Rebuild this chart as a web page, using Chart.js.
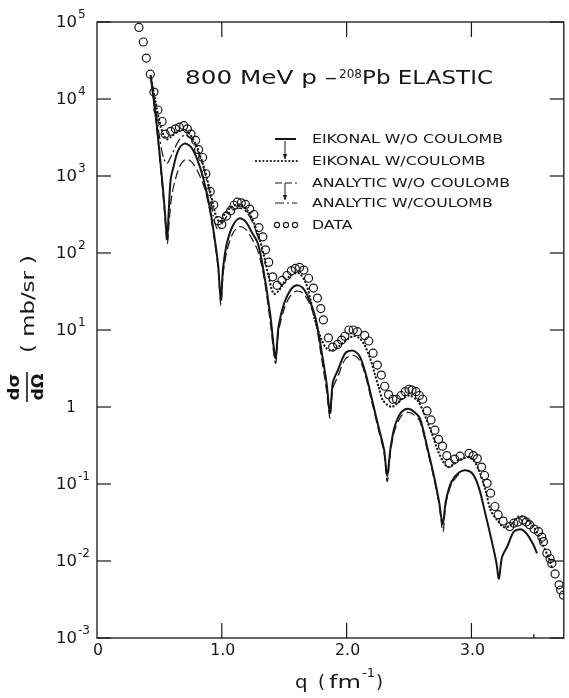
<!DOCTYPE html>
<html><head><meta charset="utf-8">
<script src="https://cdn.jsdelivr.net/npm/chart.js@4/dist/chart.umd.min.js"></script>
<style>html,body{margin:0;padding:0;background:#fff}canvas{display:block}</style>
</head><body>
<canvas id="c" width="569" height="698"></canvas>
<script>
// ---------- data ----------
// measured data (open circles): q (fm^-1), dσ/dΩ (mb/sr)
const qData = [0.336,0.371,0.395,0.427,0.456,0.488,0.522,0.546,0.591,0.628,0.660,0.695,0.724,0.753,0.790,0.814,0.846,0.872,0.907,0.935,0.971,1.000,1.037,1.071,1.098,1.124,1.156,1.190,1.223,1.257,1.297,1.329,1.350,1.376,1.408,1.443,1.482,1.522,1.557,1.589,1.623,1.657,1.695,1.734,1.766,1.793,1.814,1.854,1.888,1.928,1.960,1.986,2.018,2.053,2.087,2.145,2.177,2.212,2.246,2.278,2.305,2.336,2.371,2.399,2.437,2.469,2.500,2.524,2.556,2.583,2.609,2.644,2.676,2.707,2.737,2.768,2.803,2.822,2.867,2.909,2.981,3.015,3.047,3.081,3.105,3.126,3.153,3.188,3.214,3.254,3.307,3.339,3.373,3.413,3.439,3.466,3.503,3.537,3.564,3.577,3.604,3.630,3.644,3.670,3.702,3.715,3.737];
const xsData = [8.5e4,5.5e4,3.4e4,2.1e4,1.23e4,7.2e3,5.1e3,3.5e3,3.8e3,4.1e3,4.3e3,4.5e3,4.1e3,3.5e3,2.9e3,2.2e3,1.74e3,1.07e3,630,420,263,234,302,355,417,457,447,427,372,316,214,162,110,76,49,38,44,51,59,63,65,60,47,35,26,19,13.5,7.9,6.0,6.5,7.4,8.3,10,10,9.5,8.5,7.2,5.0,3.5,2.6,1.86,1.45,1.26,1.26,1.41,1.58,1.7,1.66,1.58,1.41,1.26,0.89,0.68,0.50,0.38,0.31,0.234,0.186,0.21,0.23,0.25,0.234,0.214,0.166,0.129,0.102,0.076,0.051,0.040,0.033,0.028,0.031,0.032,0.034,0.032,0.0295,0.026,0.024,0.0204,0.0178,0.0126,0.0107,0.0093,0.0068,0.0049,0.0042,0.0036];

// eikonal without Coulomb (solid)
const qEik = [0.43,0.475,0.515,0.54,0.55,0.562,0.575,0.59,0.61,0.65,0.70,0.75,0.80,0.85,0.90,0.94,0.97,0.992,1.01,1.04,1.09,1.14,1.19,1.24,1.29,1.34,1.39,1.43,1.455,1.50,1.55,1.60,1.65,1.70,1.75,1.80,1.84,1.867,1.89,1.93,1.99,2.05,2.106,2.15,2.20,2.25,2.30,2.325,2.35,2.384,2.437,2.49,2.54,2.587,2.65,2.70,2.74,2.77,2.795,2.84,2.90,2.955,3.01,3.06,3.11,3.16,3.20,3.22,3.245,3.29,3.34,3.40,3.45,3.50,3.525];
const xsEik = [2.0e4,5.2e3,1.17e3,417,251,151,355,890,1.26e3,2.14e3,2.63e3,2.4e3,1.7e3,955,417,166,71,25,63,132,229,282,257,186,132,52,15,4.3,11.2,22.4,33,38,35,25,14.5,5.2,2.0,0.83,2.1,3.0,5.0,5.4,4.5,2.8,1.32,0.60,0.28,0.126,0.28,0.55,0.85,0.95,0.87,0.71,0.28,0.126,0.060,0.030,0.060,0.107,0.141,0.151,0.135,0.089,0.042,0.019,0.0095,0.0059,0.0112,0.0158,0.024,0.0257,0.0219,0.0158,0.0126];

// eikonal with Coulomb (dotted)
const qEikC = [0.43,0.47,0.50,0.53,0.56,0.60,0.65,0.70,0.75,0.80,0.85,0.90,0.95,0.985,1.02,1.08,1.15,1.22,1.297,1.34,1.376,1.416,1.46,1.509,1.56,1.615,1.67,1.71,1.748,1.80,1.84,1.88,1.93,1.986,2.053,2.10,2.145,2.19,2.225,2.26,2.29,2.357,2.40,2.45,2.503,2.57,2.62,2.663,2.70,2.73,2.77,2.81,2.86,2.90,2.98,3.02,3.06,3.113,3.153,3.206,3.26,3.31,3.38,3.43,3.50,3.564,3.617,3.644];
const xsEikC = [2.0e4,8.9e3,5.2e3,3.5e3,3.0e3,3.3e3,3.8e3,4.0e3,3.4e3,2.4e3,1.41e3,708,316,251,316,398,427,331,162,89,49,29.5,33,44,52,55,42,25,13.2,7.4,5.75,5.4,6.0,7.2,8.3,7.9,6.3,4.2,2.7,1.74,1.23,1.0,1.1,1.29,1.41,1.2,0.83,0.55,0.38,0.275,0.2,0.166,0.182,0.204,0.224,0.2,0.151,0.083,0.046,0.034,0.0275,0.0288,0.038,0.036,0.0275,0.017,0.0112,0.0083];

// analytic without Coulomb (dashed)
const qAna = [0.43,0.475,0.515,0.54,0.563,0.58,0.60,0.63,0.67,0.715,0.76,0.81,0.86,0.90,0.94,0.97,0.993,1.01,1.04,1.09,1.14,1.19,1.24,1.29,1.34,1.39,1.43,1.455,1.50,1.55,1.60,1.65,1.70,1.75,1.80,1.84,1.867,1.89,1.93,1.99,2.05,2.106,2.15,2.20,2.25,2.30,2.325,2.35,2.384,2.437,2.49,2.54,2.587,2.65,2.70,2.74,2.772,2.795,2.84,2.90];
const xsAna = [2.0e4,4.8e3,1.0e3,355,132,282,562,933,1.41e3,1.66e3,1.51e3,1.12e3,708,380,151,63,21,52,105,182,219,204,155,105,46,12,3.7,9.5,19,28,32,30,22.4,13.2,4.2,1.6,0.72,1.74,2.5,4.2,4.7,4.0,2.57,1.2,0.55,0.25,0.107,0.25,0.49,0.76,0.85,0.79,0.65,0.26,0.117,0.055,0.024,0.055,0.100,0.135];

// analytic with Coulomb (dash-dot)
const qAnaC = [0.43,0.47,0.50,0.53,0.56,0.60,0.65,0.70,0.75,0.80,0.85,0.90,0.935,0.97,1.01,1.06,1.12,1.18,1.24,1.30];
const xsAnaC = [2.0e4,7.6e3,3.3e3,1.78e3,1.45e3,1.9e3,2.8e3,3.4e3,3.1e3,2.24e3,1.32e3,630,282,200,251,331,380,363,263,145];

// axis ticks and labels
const yTicks = [1e-3,1e-2,1e-1,1,1e1,1e2,1e3,1e4,1e5];
const yTickBase = ['10','10','10','1','10','10','10','10','10'];
const yTickSup = ['-3','-2','-1','','1','2','3','4','5'];
const xLabelVals = [0,1,2,3];
const xLabels = ['0','1.0','2.0','3.0'];
const xMajorTicks = [1,2,3];
const xMinorTicks = [3.5];

const legendLabels = ['EIKONAL W/O COULOMB','EIKONAL W/COULOMB','ANALYTIC W/O COULOMB','ANALYTIC W/COULOMB','DATA'];

// ---------- drawing ----------
const INK = '#161616';
const FONT = '"DejaVu Sans", "Liberation Sans", sans-serif';
const pts = (xs, ys) => xs.map((q, i) => ({x: q, y: ys[i]}));

function txt(ctx, s, x, y, size, o = {}) {
  ctx.save();
  ctx.font = (o.weight || 'normal') + ' ' + size + 'px ' + FONT;
  ctx.textBaseline = o.baseline || 'alphabetic';
  ctx.textAlign = 'left';
  const w = ctx.measureText(s).width;
  const sx = o.width ? o.width / w : (o.sx || 1);
  const W = w * sx;
  let left = x;
  if (o.align === 'center') left = x - W / 2;
  else if (o.align === 'right') left = x - W;
  ctx.translate(left, y);
  ctx.scale(sx, 1);
  ctx.fillStyle = INK;
  ctx.fillText(s, 0, 0);
  ctx.restore();
  return W;
}
function seg(ctx, x1, y1, x2, y2) { ctx.beginPath(); ctx.moveTo(x1, y1); ctx.lineTo(x2, y2); ctx.stroke(); }
function arrowDown(ctx, x, y1, y2) {
  ctx.save(); ctx.setLineDash([]); ctx.lineWidth = 1;
  seg(ctx, x, y1, x, y2);
  ctx.beginPath(); ctx.moveTo(x - 2.2, y2 - 5); ctx.lineTo(x, y2); ctx.lineTo(x + 2.2, y2 - 5); ctx.closePath();
  ctx.fillStyle = INK; ctx.fill();
  ctx.restore();
}

const decor = {
  id: 'decor',
  afterDraw(chart) {
    const {ctx, chartArea: a, scales: {x, y}} = chart;
    ctx.save();
    ctx.strokeStyle = INK;
    ctx.lineWidth = 1.3;
    ctx.strokeRect(a.left, a.top, a.right - a.left, a.bottom - a.top);
    ctx.lineWidth = 1.2;
    // y ticks (inward, both sides) and labels
    yTicks.forEach((v, i) => {
      const py = y.getPixelForValue(v);
      seg(ctx, a.left, py, a.left + 14, py);
      seg(ctx, a.right, py, a.right - 14, py);
      if (yTickSup[i]) {
        txt(ctx, yTickBase[i], 77, py + 1, 15, {baseline: 'middle', align: 'right', sx: 1.1});
        txt(ctx, yTickSup[i], 78, py - 7, 11.5, {baseline: 'middle', sx: 1.05});
      } else {
        txt(ctx, yTickBase[i], 71, py + 1, 15, {baseline: 'middle', align: 'center'});
      }
    });
    // x ticks
    xMajorTicks.forEach(v => {
      const px = x.getPixelForValue(v);
      seg(ctx, px, a.bottom, px, a.bottom - 15);
      seg(ctx, px, a.top, px, a.top + 15);
    });
    xMinorTicks.forEach(v => {
      const px = x.getPixelForValue(v);
      seg(ctx, px, a.bottom, px, a.bottom - 4);
    });
    xLabelVals.forEach((v, i) => {
      txt(ctx, xLabels[i], x.getPixelForValue(v) + 1, 651, 15, {baseline: 'middle', align: 'center', sx: 1.05});
    });
    // x title: q (fm^-1)
    txt(ctx, 'q', 295, 688, 18, {sx: 1.1});
    let xx = 318;
    xx += txt(ctx, '(', xx, 688, 18);
    xx += 4;
    xx += txt(ctx, 'fm', xx, 688, 18, {width: 32});
    txt(ctx, '-1', xx + 1, 677, 12.5, {width: 13});
    txt(ctx, ')', xx + 15, 688, 18);
    // y title (rotated)
    ctx.save();
    ctx.rotate(-Math.PI / 2);
    txt(ctx, '( mb/sr )', -304, 30, 17, {baseline: 'middle', align: 'center', width: 98});
    txt(ctx, 'dσ', -387, 15, 16, {baseline: 'middle', align: 'center', width: 27, weight: 'bold'});
    txt(ctx, 'dΩ', -387, 39, 16, {baseline: 'middle', align: 'center', width: 27, weight: 'bold'});
    ctx.lineWidth = 1.6;
    seg(ctx, -402, 27, -372, 27);
    ctx.restore();
    // title
    txt(ctx, '800 MeV p –', 185, 84, 20, {width: 152});
    txt(ctx, '208', 339, 78, 13, {width: 23});
    txt(ctx, 'Pb ELASTIC', 362, 84, 20, {width: 131});
    // legend
    const lx = 312, rows = [139, 161, 183, 203, 225];
    ctx.font = '13px ' + FONT;
    const sxL = 191 / ctx.measureText(legendLabels[0]).width;
    legendLabels.forEach((s, i) => txt(ctx, s, lx, rows[i] + 1, 13, {baseline: 'middle', sx: sxL}));
    ctx.lineCap = 'butt';
    ctx.lineWidth = 2; ctx.setLineDash([]);
    seg(ctx, 275, rows[0], 296, rows[0]);
    arrowDown(ctx, 285, rows[0] + 2, rows[1] - 2);
    ctx.lineCap = 'round'; ctx.lineWidth = 2.2; ctx.setLineDash([0.1, 3.6]);
    seg(ctx, 256, rows[1], 297, rows[1]);
    ctx.lineCap = 'butt'; ctx.lineWidth = 1.2; ctx.setLineDash([7, 3]);
    seg(ctx, 275, rows[2], 297, rows[2]);
    arrowDown(ctx, 285, rows[2], rows[3] - 3);
    ctx.setLineDash([9, 3, 2, 3]);
    seg(ctx, 275, rows[3], 297, rows[3]);
    ctx.setLineDash([]); ctx.lineWidth = 1.1;
    [277, 286, 295].forEach(cx => { ctx.beginPath(); ctx.arc(cx, rows[4], 2.6, 0, Math.PI * 2); ctx.stroke(); });
    ctx.restore();
  }
};

const lineBase = {showLine: true, pointRadius: 0, fill: false, tension: 0.3, borderColor: INK};

new Chart(document.getElementById('c'), {
  type: 'scatter',
  data: {
    datasets: [
      {label: 'DATA', data: pts(qData, xsData), showLine: false, pointRadius: 4, pointHoverRadius: 4,
        pointBorderWidth: 1.2, pointStyle: 'circle', borderColor: INK, backgroundColor: 'rgba(0,0,0,0)'},
      Object.assign({label: 'EIKONAL W/O COULOMB', data: pts(qEik, xsEik), borderWidth: 2}, lineBase),
      Object.assign({label: 'EIKONAL W/COULOMB', data: pts(qEikC, xsEikC), borderWidth: 2.3,
        borderDash: [0.1, 3.6], borderCapStyle: 'round'}, lineBase),
      Object.assign({label: 'ANALYTIC W/O COULOMB', data: pts(qAna, xsAna), borderWidth: 1.2,
        borderDash: [9, 4]}, lineBase),
      Object.assign({label: 'ANALYTIC W/COULOMB', data: pts(qAnaC, xsAnaC), borderWidth: 1.2,
        borderDash: [10, 3, 2, 3]}, lineBase)
    ]
  },
  options: {
    responsive: false,
    animation: false,
    devicePixelRatio: 1,
    layout: {padding: {left: 97, right: 2, top: 22, bottom: 60}},
    plugins: {legend: {display: false}, tooltip: {enabled: false}, title: {display: false}},
    scales: {
      x: {type: 'linear', min: 0, max: 3.74, display: false},
      y: {type: 'logarithmic', min: 1e-3, max: 1e5, display: false}
    }
  },
  plugins: [decor]
});
</script>
</body></html>
